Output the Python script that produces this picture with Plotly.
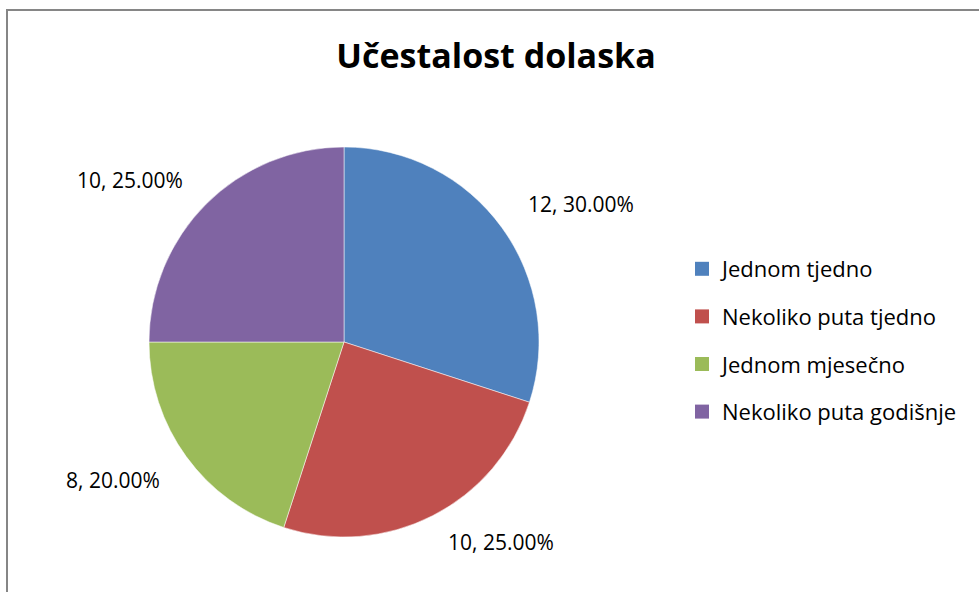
import math
import plotly.graph_objects as go

categories = ["Jednom tjedno", "Nekoliko puta tjedno", "Jednom mjesečno", "Nekoliko puta godišnje"]
values = [12, 10, 8, 10]
colors = ["#4F81BD", "#C0504D", "#9BBB59", "#8064A2"]
title_text = "Učestalost dolaska"

W, H = 979, 592
FONT = "Open Sans"
total = sum(values)
labels_text = [f"{v}, {v / total * 100:.2f}%" for v in values]

# pie geometry (pixels)
cx, cy, R = 344, 342, 195
dom_x = [(cx - R) / W, (cx + R) / W]
dom_y = [1 - (cy + R) / H, 1 - (cy - R) / H]

fig = go.Figure()
fig.add_trace(go.Pie(
    labels=categories, values=values, sort=False, direction="clockwise", rotation=0,
    marker=dict(colors=colors, line=dict(color="rgba(255,255,255,0.5)", width=1)),
    textinfo="none", domain=dict(x=dom_x, y=dom_y),
    showlegend=False, hoverinfo="label+value+percent",
))
for i, (c, col) in enumerate(zip(categories, colors)):
    fig.add_trace(go.Scatter(
        x=[None], y=[None], mode="markers", name=c, legendgroup=f"g{i}",
        marker=dict(symbol="square", size=14, color=col),
    ))

# data labels placed just outside each slice at its mid-angle
annotations = []
cum = 0
gx, gy = R + 30, R + 12
for v, t in zip(values, labels_text):
    mid = (cum + v / 2) / total * 2 * math.pi
    cum += v
    ang = math.pi / 2 - mid
    px = cx + gx * math.cos(ang)
    py = cy - gy * math.sin(ang)
    annotations.append(dict(
        x=px / W, y=1 - py / H, xref="paper", yref="paper", text=t, showarrow=False,
        xanchor="left" if math.cos(ang) >= 0 else "right",
        yanchor="bottom" if math.sin(ang) >= 0 else "top",
        font=dict(family=FONT, size=21, color="#000000"),
    ))

fig.update_layout(
    width=W, height=H, margin=dict(l=0, r=0, t=0, b=0),
    paper_bgcolor="white", plot_bgcolor="white",
    title=dict(text=f"<b>{title_text}</b>", x=496 / W, xanchor="center", y=1 - 56 / H, yanchor="middle",
               font=dict(family=FONT, size=34, color="#000000")),
    xaxis=dict(visible=False), yaxis=dict(visible=False),
    legend=dict(x=682 / W, xanchor="left", y=1 - 248 / H, yanchor="top",
                font=dict(family=FONT, size=22, color="#000000"),
                tracegroupgap=16, itemwidth=30, bgcolor="rgba(0,0,0,0)"),
    annotations=annotations,
    shapes=[dict(type="rect", xref="paper", yref="paper", x0=7 / W, y0=-0.05, x1=1.05, y1=1 - 10 / H,
                 line=dict(color="#868686", width=2), fillcolor="rgba(0,0,0,0)", layer="below")],
)
fig.write_html("out.html", config={"displayModeBar": False},
               post_script="document.body.style.margin='0';")
